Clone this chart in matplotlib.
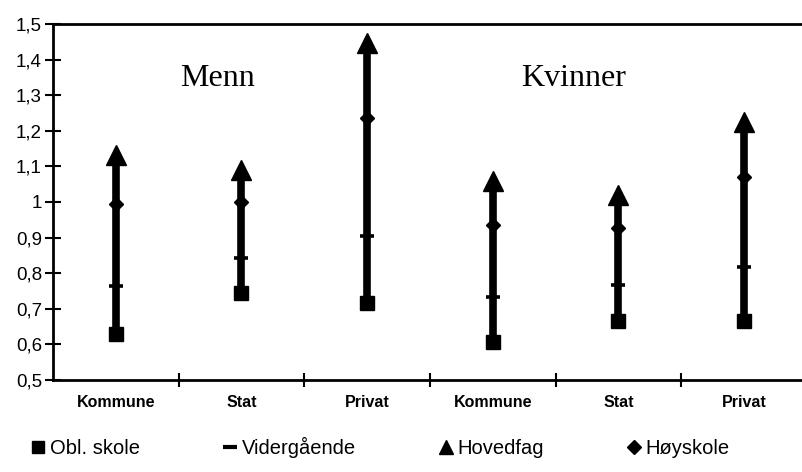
import matplotlib
matplotlib.use("Agg")
import matplotlib.pyplot as plt
from matplotlib.lines import Line2D

# categories (two groups: men / women)
categories = ["Kommune", "Stat", "Privat", "Kommune", "Stat", "Privat"]
group_labels = ["Menn", "Kvinner"]

# values per education level
obl_skole = [0.628, 0.743, 0.717, 0.607, 0.665, 0.666]
videregaende = [0.764, 0.844, 0.904, 0.732, 0.766, 0.817]
hovedfag = [1.133, 1.090, 1.446, 1.059, 1.020, 1.226]
hoyskole = [0.994, 1.000, 1.235, 0.935, 0.928, 1.071]

series_names = ["Obl. skole", "Vidergående", "Hovedfag", "Høyskole"]

yticks = [0.5, 0.6, 0.7, 0.8, 0.9, 1.0, 1.1, 1.2, 1.3, 1.4, 1.5]
ytick_labels = ["0,5", "0,6", "0,7", "0,8", "0,9", "1", "1,1", "1,2", "1,3", "1,4", "1,5"]

plt.rcParams["font.family"] = ["Liberation Sans", "DejaVu Sans"]

W, H = 802, 472
fig = plt.figure(figsize=(W / 100, H / 100), dpi=100)
ax = fig.add_axes([53 / W, 1 - 380 / H, (807 - 53) / W, (380 - 24) / H])

x = list(range(len(categories)))

# high-low lines
for i in x:
    lo = min(obl_skole[i], videregaende[i], hovedfag[i], hoyskole[i])
    hi = max(obl_skole[i], videregaende[i], hovedfag[i], hoyskole[i])
    ax.plot([i, i], [lo, hi], color="black", lw=5.5, solid_capstyle="butt", zorder=2)

ax.plot(x, obl_skole, ls="none", marker="s", ms=10.5, color="black", zorder=3)
ax.plot(x, videregaende, ls="none", marker="_", ms=10, mew=2.6, color="black", zorder=3)
ax.plot(x, hovedfag, ls="none", marker="^", ms=14, color="black", zorder=3)
ax.plot(x, hoyskole, ls="none", marker="D", ms=7.5, color="black", zorder=3)

ax.set_xlim(-0.5, len(categories) - 0.5)
ax.set_ylim(0.5, 1.5)

ax.set_yticks(yticks)
ax.set_yticklabels(ytick_labels, fontsize=13.5)
ax.tick_params(axis="y", direction="inout", length=12, width=1.5, pad=2)

# boundaries as major ticks, labels on minor ticks at centers
ax.set_xticks([i + 0.5 for i in x[:-1]])
ax.set_xticklabels([])
ax.set_xticks(x, minor=True)
ax.set_xticklabels(categories, minor=True, fontsize=11.5, fontweight="bold")
ax.tick_params(axis="x", which="major", direction="inout", length=10, width=1.5)
ax.tick_params(axis="x", which="minor", length=0, pad=11)

for side in ["left", "bottom", "top", "right"]:
    ax.spines[side].set_linewidth(2)

ax.text(0.81, 1.346, group_labels[0], fontsize=23, family="Liberation Serif",
        ha="center", va="center")
ax.text(3.645, 1.346, group_labels[1], fontsize=23, family="Liberation Serif",
        ha="center", va="center")

handles = [
    Line2D([], [], ls="none", marker="s", ms=9, color="black"),
    Line2D([], [], ls="none", marker="_", ms=10, mew=3, color="black"),
    Line2D([], [], ls="none", marker="^", ms=10, color="black"),
    Line2D([], [], ls="none", marker="D", ms=7, color="black"),
]
fig.legend(handles, series_names, ncol=4, frameon=False, fontsize=14.5,
           loc="lower left", bbox_to_anchor=(30 / W, 14 / H),
           handlelength=0.8, handletextpad=0.2, columnspacing=4.05,
           borderaxespad=0, borderpad=0)

fig.savefig("out.png", dpi=100)
